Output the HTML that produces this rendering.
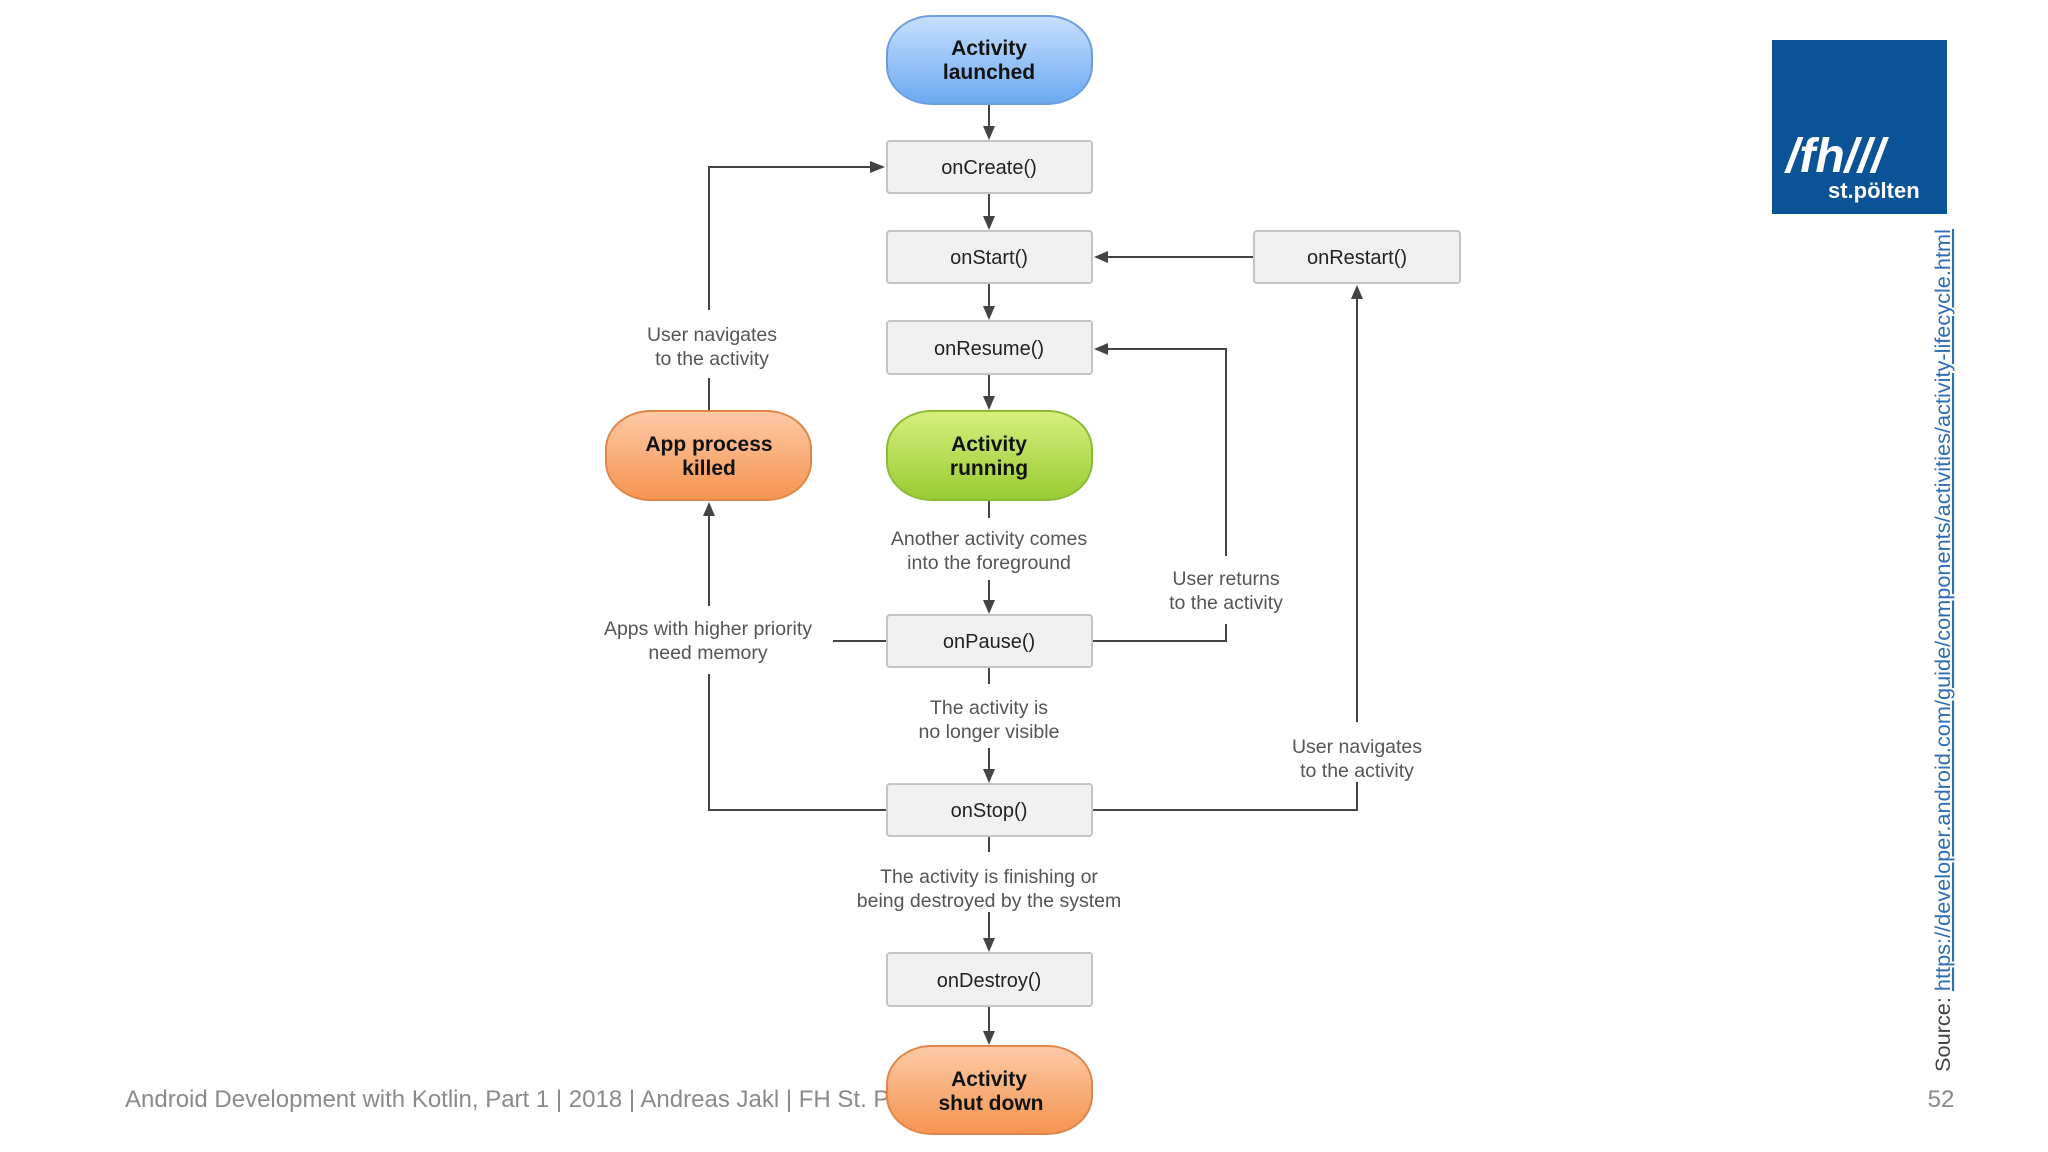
<!DOCTYPE html>
<html><head><meta charset="utf-8"><style>
html,body{margin:0;padding:0;background:#fff;width:2048px;height:1152px;overflow:hidden}
svg{display:block}
</style></head><body>
<svg width="2048" height="1152" viewBox="0 0 2048 1152" xmlns="http://www.w3.org/2000/svg">
<defs>
<linearGradient id="gb" x1="0" y1="0" x2="0" y2="1"><stop offset="0" stop-color="#c7e0fd"/><stop offset="1" stop-color="#6aa9f1"/></linearGradient>
<linearGradient id="gg" x1="0" y1="0" x2="0" y2="1"><stop offset="0" stop-color="#d6ef7c"/><stop offset="1" stop-color="#97cc33"/></linearGradient>
<linearGradient id="go" x1="0" y1="0" x2="0" y2="1"><stop offset="0" stop-color="#fdcaa6"/><stop offset="1" stop-color="#f59450"/></linearGradient>
</defs>
<g fill="none" stroke="#444" stroke-width="2">
<line x1="989" y1="104" x2="989" y2="128"/>
<line x1="989" y1="193" x2="989" y2="218"/>
<line x1="989" y1="283" x2="989" y2="308"/>
<line x1="989" y1="374" x2="989" y2="398"/>
<line x1="989" y1="500" x2="989" y2="518"/>
<line x1="989" y1="580" x2="989" y2="602"/>
<line x1="989" y1="667" x2="989" y2="684"/>
<line x1="989" y1="748" x2="989" y2="771"/>
<line x1="989" y1="836" x2="989" y2="852"/>
<line x1="989" y1="912" x2="989" y2="940"/>
<line x1="989" y1="1006" x2="989" y2="1033"/>
<polyline points="709,310 709,167 872,167"/>
<line x1="709" y1="378" x2="709" y2="411"/>
<line x1="1254" y1="257" x2="1106" y2="257"/>
<polyline points="1092,641 1226,641 1226,624"/>
<polyline points="1226,556 1226,349 1106,349"/>
<polyline points="1092,810 1357,810 1357,782"/>
<polyline points="1357,722 1357,297"/>
<polyline points="887,810 709,810 709,674"/>
<line x1="709" y1="606" x2="709" y2="514"/>
<line x1="833" y1="641" x2="887" y2="641"/>
</g>
<g fill="#444">
<polygon points="983,126 995,126 989,140"/>
<polygon points="983,216 995,216 989,230"/>
<polygon points="983,306 995,306 989,320"/>
<polygon points="983,396 995,396 989,410"/>
<polygon points="983,600 995,600 989,614"/>
<polygon points="983,769 995,769 989,783"/>
<polygon points="983,938 995,938 989,952"/>
<polygon points="983,1031 995,1031 989,1045"/>
<polygon points="870,161 870,173 885,167"/>
<polygon points="1108,251 1108,263 1094,257"/>
<polygon points="1108,343 1108,355 1094,349"/>
<polygon points="1351,299 1363,299 1357,285"/>
<polygon points="703,516 715,516 709,502"/>
</g>
<g stroke-width="2" font-family="'Liberation Sans',sans-serif" font-weight="bold" font-size="21" text-anchor="middle" fill="#111">
<rect x="887" y="16" width="205" height="88" rx="45" ry="38" fill="url(#gb)" stroke="#6d9de0"/>
<rect x="887" y="411" width="205" height="89" rx="45" ry="38" fill="url(#gg)" stroke="#8dbb36"/>
<rect x="606" y="411" width="205" height="89" rx="45" ry="38" fill="url(#go)" stroke="#e0864a"/>
<text x="989" y="55" fill="#111">Activity</text><text x="989" y="79" fill="#111">launched</text>
<text x="989" y="451" fill="#111">Activity</text><text x="989" y="475" fill="#111">running</text>
<text x="709" y="451" fill="#111">App process</text><text x="709" y="475" fill="#111">killed</text>
</g>
<g fill="#f1f1f2" stroke="#c4c4c6" stroke-width="2">
<rect x="887" y="141" width="205" height="52" rx="3"/>
<rect x="887" y="231" width="205" height="52" rx="3"/>
<rect x="887" y="321" width="205" height="53" rx="3"/>
<rect x="887" y="615" width="205" height="52" rx="3"/>
<rect x="887" y="784" width="205" height="52" rx="3"/>
<rect x="887" y="953" width="205" height="53" rx="3"/>
<rect x="1254" y="231" width="206" height="52" rx="3"/>
</g>
<g font-family="'Liberation Sans',sans-serif" font-size="20" text-anchor="middle" fill="#222">
<text x="989" y="174">onCreate()</text>
<text x="989" y="264">onStart()</text>
<text x="989" y="355">onResume()</text>
<text x="989" y="648">onPause()</text>
<text x="989" y="817">onStop()</text>
<text x="989" y="987">onDestroy()</text>
<text x="1357" y="264">onRestart()</text>
</g>
<g font-family="'Liberation Sans',sans-serif" font-size="19.5" text-anchor="middle" fill="#555">
<text x="712" y="341">User navigates</text><text x="712" y="365">to the activity</text>
<text x="989" y="545">Another activity comes</text><text x="989" y="569">into the foreground</text>
<text x="1226" y="585">User returns</text><text x="1226" y="609">to the activity</text>
<text x="708" y="635">Apps with higher priority</text><text x="708" y="659">need memory</text>
<text x="989" y="714">The activity is</text><text x="989" y="738">no longer visible</text>
<text x="1357" y="753">User navigates</text><text x="1357" y="777">to the activity</text>
<text x="989" y="883">The activity is finishing or</text><text x="989" y="907">being destroyed by the system</text>
</g>
<text x="125" y="1107" font-family="'Liberation Sans',sans-serif" font-size="24" fill="#8a8a8a">Android Development with Kotlin, Part 1 | 2018 | Andreas Jakl | FH St. Pö</text>
<rect x="887" y="1046" width="205" height="88" rx="45" ry="38" fill="url(#go)" stroke="#e0864a" stroke-width="2"/>
<text x="989" y="1086" font-family="'Liberation Sans',sans-serif" font-weight="bold" font-size="21" text-anchor="middle" fill="#111">Activity</text>
<text x="991" y="1110" font-family="'Liberation Sans',sans-serif" font-weight="bold" font-size="21" text-anchor="middle" fill="#111">shut down</text>
<text x="1941" y="1107" font-family="'Liberation Sans',sans-serif" font-size="24" text-anchor="middle" fill="#8a8a8a">52</text>
<rect x="1772" y="40" width="175" height="174" fill="#0a5396"/>
<text x="1786" y="172" font-family="'Liberation Sans',sans-serif" font-weight="bold" font-style="italic" font-size="48" fill="#fff">/fh///</text>
<text x="1828" y="198" font-family="'Liberation Sans',sans-serif" font-weight="bold" font-size="22" fill="#fff">st.pölten</text>
<text transform="translate(1950,1072) rotate(-90)" font-family="'Liberation Sans',sans-serif" font-size="21" fill="#444" textLength="843" lengthAdjust="spacingAndGlyphs">Source: <tspan fill="#2f6db5" text-decoration="underline">https://developer.android.com/guide/components/activities/activity-lifecycle.html</tspan></text>
</svg>
</body></html>
